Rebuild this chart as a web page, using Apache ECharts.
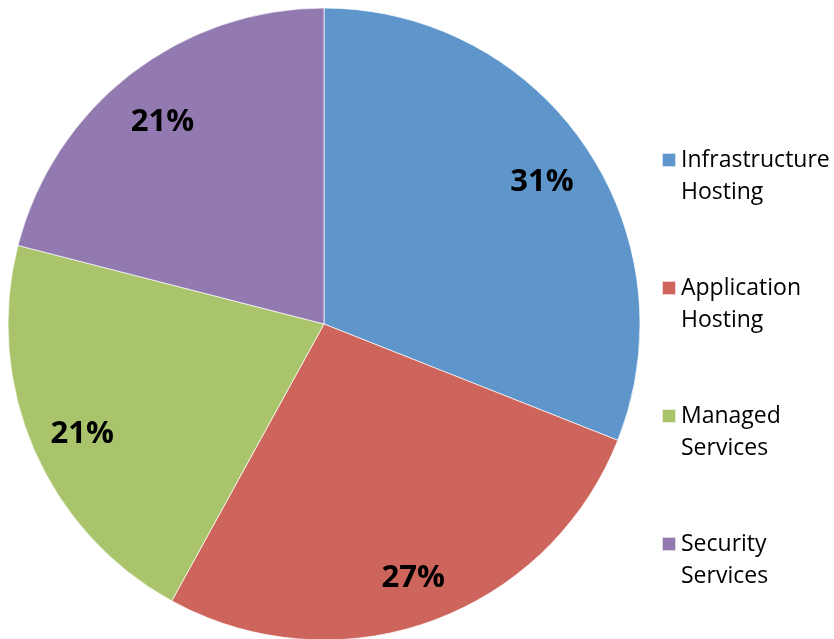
<!DOCTYPE html>
<html>
<head>
<meta charset="utf-8">
<script src="https://cdn.jsdelivr.net/npm/echarts@6/dist/echarts.min.js"></script>
<style>
  html, body { margin: 0; padding: 0; background: #fff; }
  #chart { width: 834px; height: 639px; }
</style>
</head>
<body>
<div id="chart"></div>
<script>
const categories = ['Infrastructure\nHosting', 'Application\nHosting', 'Managed\nServices', 'Security\nServices']
const shares = [31, 27, 21, 21]
const colors = ['#5e95ca', '#ce655c', '#a9c46a', '#927ab0']

const pieData = categories.map((name, i) => ({ name, value: shares[i] }))

const myChart = echarts.init(document.getElementById('chart'))
myChart.setOption({
  animation: false,
  color: colors,
  legend: {
    orient: 'vertical',
    left: 661,
    top: 112,
    padding: 0,
    icon: 'rect',
    itemWidth: 14,
    itemHeight: 14,
    itemGap: 32,
    selectedMode: false,
    // 空的首行让第一行文字和色块对齐
    formatter: name => '\n' + name,
    textStyle: {
      fontFamily: 'Open Sans',
      fontSize: 23,
      lineHeight: 32,
      color: '#000'
    },
    data: categories
  },
  series: [
    {
      // 扇区
      type: 'pie',
      center: [324, 324],
      radius: [0, 316],
      startAngle: 90,
      silent: true,
      label: { show: false },
      labelLine: { show: false },
      itemStyle: { borderColor: 'rgba(255,255,255,0.7)', borderWidth: 1 },
      data: pieData
    },
    {
      // 百分比标签
      type: 'pie',
      center: [324, 324],
      radius: [205, 316],
      startAngle: 90,
      silent: true,
      legendHoverLink: false,
      itemStyle: { color: 'rgba(0,0,0,0)' },
      label: {
        show: true,
        position: 'inside',
        offset: [0, 6],
        formatter: p => p.value + '%',
        fontFamily: 'Open Sans',
        fontWeight: 'bold',
        fontSize: 31,
        color: '#000'
      },
      labelLine: { show: false },
      data: pieData.map(d => ({ name: d.name + ' ', value: d.value }))
    }
  ]
})
</script>
</body>
</html>
